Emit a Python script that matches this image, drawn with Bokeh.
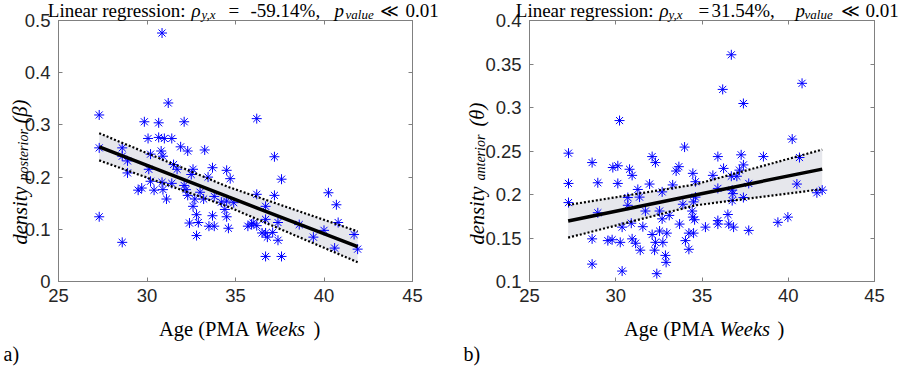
from bokeh.plotting import figure
from bokeh.layouts import row, column
from bokeh.models import Label, LinearAxis, FixedTicker, Range1d
from bokeh.embed import file_html
from bokeh.resources import INLINE

# ---------------- data ----------------
age_a = [30.85, 27.3, 27.3, 27.3, 28.6, 31.2, 29.85, 30.66, 32.1, 36.2, 30.06, 30.66, 30.98, 31.4,
         28.6, 31.9, 32.3, 33.26, 30.8, 30.2, 30.9, 28.6, 28.9, 37.2, 31.5, 31.7, 30.1, 28.9, 32.6,
         33.7, 34.5, 32.5, 34.7, 33.45, 37.6, 30.2, 30.85, 31.4, 32.1, 29.7, 29.5, 30.4, 30.9, 32.2,
         32.3, 33.0, 33.8, 33.2, 31.1, 32.7, 32.6, 34.2, 34.5, 34.9, 36.2, 37.2, 36.7, 32.8, 33.7,
         34.4, 34.5, 32.9, 32.4, 33.5, 33.8, 34.6, 35.7, 35.9, 36.0, 36.2, 36.7, 37.4, 36.7, 36.5,
         37.1, 36.8, 37.4, 32.8, 38.6, 39.4, 40.0, 40.25, 40.7, 40.8, 40.6, 41.7, 41.9, 36.7, 37.6]
dens_post = [0.476, 0.319, 0.256, 0.124, 0.075, 0.342, 0.306, 0.304, 0.306, 0.312, 0.274, 0.276, 0.274,
             0.274, 0.256, 0.258, 0.25, 0.252, 0.25, 0.244, 0.24, 0.24, 0.231, 0.239, 0.224, 0.215,
             0.215, 0.208, 0.215, 0.218, 0.213, 0.205, 0.197, 0.2, 0.196, 0.192, 0.19, 0.188, 0.184,
             0.179, 0.175, 0.175, 0.176, 0.176, 0.165, 0.171, 0.163, 0.158, 0.158, 0.158, 0.144,
             0.152, 0.154, 0.151, 0.167, 0.165, 0.144, 0.128, 0.126, 0.138, 0.124, 0.113, 0.112,
             0.106, 0.106, 0.102, 0.106, 0.11, 0.112, 0.107, 0.119, 0.113, 0.093, 0.093, 0.094,
             0.085, 0.079, 0.088, 0.109, 0.085, 0.098, 0.17, 0.147, 0.113, 0.064, 0.09, 0.062,
             0.048, 0.048]

fit_x_a = [27.3, 34.6, 41.9]
fit_y_a = [0.258, 0.162, 0.067]
upper_a = [0.284, 0.181, 0.096]
lower_a = [0.232, 0.143, 0.037]

age_b = [27.26, 27.26, 27.26, 28.63, 28.63, 28.63, 28.96, 28.96, 29.83, 30.12, 30.12, 29.54, 29.79,
         30.22, 30.26, 30.37, 30.8, 30.95, 30.7, 30.7, 30.37, 30.9, 30.95, 31.15, 31.28, 31.38,
         31.42, 31.57, 31.72, 31.96, 32.11, 32.3, 32.11, 32.25, 32.38, 32.3, 32.54, 32.69, 32.69,
         32.73, 32.88, 32.92, 32.96, 33.1, 32.54, 33.3, 33.5, 33.66, 33.7, 33.99, 33.89, 34.04,
         34.24, 34.24, 34.47, 34.62, 34.51, 34.47, 34.51, 34.62, 34.57, 34.43, 35.2, 35.63, 35.92,
         35.92, 35.92, 35.92, 36.2, 36.25, 36.5, 36.55, 36.7, 36.7, 36.75, 36.75, 36.79, 36.83,
         37.02, 37.17, 37.27, 37.4, 37.4, 37.4, 37.71, 37.71, 38.56, 39.4, 39.98, 40.23, 40.5,
         40.65, 40.8, 41.66, 41.97]
dens_ant = [0.2475, 0.2127, 0.1907, 0.2367, 0.149, 0.12, 0.2135, 0.179, 0.231, 0.233, 0.2127, 0.147,
            0.148, 0.285, 0.145, 0.112, 0.229, 0.222, 0.1965, 0.1876, 0.1625, 0.167, 0.149, 0.144,
            0.2058, 0.197, 0.136, 0.163, 0.181, 0.212, 0.2436, 0.2367, 0.154, 0.136, 0.109, 0.145,
            0.181, 0.203, 0.172, 0.145, 0.13, 0.122, 0.1556, 0.176, 0.158, 0.211, 0.227, 0.232,
            0.166, 0.2545, 0.1888, 0.147, 0.137, 0.1556, 0.2243, 0.2147, 0.1915, 0.174, 0.1556,
            0.197, 0.171, 0.181, 0.1625, 0.222, 0.2436, 0.207, 0.17, 0.166, 0.3208, 0.23, 0.177,
            0.166, 0.3606, 0.221, 0.205, 0.193, 0.201, 0.1625, 0.221, 0.228, 0.2456, 0.3046, 0.234,
            0.1965, 0.2127, 0.1587, 0.2436, 0.168, 0.174, 0.2637, 0.212, 0.2425, 0.3278, 0.202, 0.205]

fit_x_b = [27.24, 34.6, 41.97]
fit_y_b = [0.1695, 0.1995, 0.2292]
upper_b = [0.188, 0.2115, 0.2516]
lower_b = [0.1504, 0.1875, 0.2062]

x_ticks = [25, 30, 35, 40, 45]
x_tick_labels = ["25", "30", "35", "40", "45"]
y_ticks_a = [0, 0.1, 0.2, 0.3, 0.4, 0.5]
y_tick_labels_a = ["0", "0.1", "0.2", "0.3", "0.4", "0.5"]
y_ticks_b = [0.1, 0.15, 0.2, 0.25, 0.3, 0.35, 0.4]
y_tick_labels_b = ["0.1", "0.15", "0.2", "0.25", "0.3", "0.35", "0.4"]

# ---------------- style ----------------
SERIF = "Liberation Serif"
SANS = "Liberation Sans"
MATH = "DejaVu Serif"
AXC = "#808080"
TXT = "#262626"
BLUE = "#0000ff"
BAND = "#e6e7ec"
W, H = 903, 367
BT, BB = 20, 86


def make_panel(width, bl, br, yr, yt, ytl):
    p = figure(width=width, height=H, x_range=Range1d(25, 45), y_range=Range1d(*yr),
               output_backend="svg", toolbar_location=None, title=None,
               min_border_left=bl, min_border_right=br, min_border_top=BT, min_border_bottom=BB)
    p.grid.visible = False
    p.outline_line_color = AXC
    p.outline_line_width = 1
    for ax in (p.xaxis[0], p.yaxis[0]):
        ax.axis_line_color = AXC
        ax.major_tick_line_color = AXC
        ax.major_tick_in = 4
        ax.major_tick_out = 0
        ax.minor_tick_line_color = None
        ax.major_label_text_font = SANS
        ax.major_label_text_font_size = "18.5px"
        ax.major_label_text_color = TXT
    p.xaxis.ticker = FixedTicker(ticks=x_ticks)
    p.xaxis.major_label_overrides = dict(zip(x_ticks, x_tick_labels))
    p.xaxis.major_label_standoff = 7
    p.yaxis.ticker = FixedTicker(ticks=yt)
    p.yaxis.major_label_overrides = dict(zip(yt, ytl))
    p.yaxis.major_label_standoff = 8
    for loc, tk in (("above", x_ticks), ("right", yt)):
        ax = LinearAxis(ticker=FixedTicker(ticks=tk))
        ax.major_label_overrides = {t: "" for t in tk}
        ax.major_label_text_font_size = "0px"
        ax.major_label_standoff = 0
        ax.axis_line_color = AXC
        ax.major_tick_line_color = AXC
        ax.major_tick_in = 4
        ax.major_tick_out = 0
        ax.minor_tick_line_color = None
        p.add_layout(ax, loc)
    return p


def draw(p, ax_, ay_, fx, fy, up, lo):
    p.varea(x=fx, y1=lo, y2=up, fill_color=BAND, fill_alpha=1.0)
    p.scatter(ax_, ay_, marker="asterisk", size=10, line_color=BLUE, line_width=1)
    p.line(fx, up, line_color="black", line_width=2.2, line_dash="2 2")
    p.line(fx, lo, line_color="black", line_width=2.2, line_dash="2 2")
    p.line(fx, fy, line_color="black", line_width=3.5)


pa = make_panel(459, 58, 47, (0, 0.5), y_ticks_a, y_tick_labels_a)
draw(pa, age_a, dens_post, fit_x_a, fit_y_a, upper_a, lower_a)
pb = make_panel(444, 70, 29, (0.1, 0.4), y_ticks_b, y_tick_labels_b)
draw(pb, age_b, dens_ant, fit_x_b, fit_y_b, upper_b, lower_b)

# ------------- transparent text layer laid over both panels -------------
ov = figure(width=W, height=H, x_range=Range1d(0, W), y_range=Range1d(H, 0),
            output_backend="svg", toolbar_location=None, title=None,
            x_axis_location=None, y_axis_location=None,
            min_border=0, min_border_left=0, min_border_right=0,
            min_border_top=0, min_border_bottom=0, margin=(-H, 0, 0, 0))
ov.grid.visible = False
ov.outline_line_color = None
ov.background_fill_color = None
ov.border_fill_color = None


def add_text(px, py, text, size, style="normal", angle=0.0, font=SERIF, align="left"):
    # px, py: page pixel position (page margin is 8px)
    ov.add_layout(Label(x=px - 8, y=py - 8, text=text, text_font=font,
                        text_font_size=f"{size}px", text_font_style=style,
                        text_baseline="alphabetic", text_align=align,
                        angle=angle, text_color="black"))


TS, SS, LS = 19, 13, 20.5
R = 1.5707963267948966

# panel a texts
add_text(193, 18, "Linear regression:", TS, align="right")
add_text(199, 18, "ρ", TS, "italic")
add_text(209, 21.5, "y,x", SS, "italic")
add_text(236, 18, "=", TS)
add_text(258, 18, "-59.14%,", TS)
add_text(342, 18, "p", TS, "italic")
add_text(353, 21.5, "value", SS, "italic")
add_text(387, 18, "≪", TS - 1, font=MATH)
add_text(413, 18, "0.01", TS)
add_text(257, 336, "Age (PMA", LS, align="right")
add_text(262, 336, "Weeks", LS, "italic")
add_text(321, 336, ")", LS)
add_text(27, 252, "density", LS, "italic", R)
add_text(31, 188, "posterior", 14, "italic", R)
add_text(27, 131, "(β)", LS, "italic", R)
add_text(11, 361, "a)", 20)

# panel b texts
add_text(661, 18, "Linear regression:", TS, align="right")
add_text(667, 18, "ρ", TS, "italic")
add_text(676, 21.5, "y,x", SS, "italic")
add_text(706, 18, "=", TS)
add_text(719, 18, "31.54%,", TS)
add_text(803, 18, "p", TS, "italic")
add_text(812, 21.5, "value", SS, "italic")
add_text(848, 18, "≪", TS - 1, font=MATH)
add_text(873, 18, "0.01", TS)
add_text(722, 336, "Age (PMA", LS, align="right")
add_text(727, 336, "Weeks", LS, "italic")
add_text(785, 336, ")", LS)
add_text(484, 252, "density", LS, "italic", R)
add_text(488, 188, "anterior", 14, "italic", R)
add_text(484, 134, "(θ)", LS, "italic", R)
add_text(471, 361, "b)", 20)

layout = column(row(pa, pb), ov)
open("out.html", "w").write(file_html(layout, INLINE))
